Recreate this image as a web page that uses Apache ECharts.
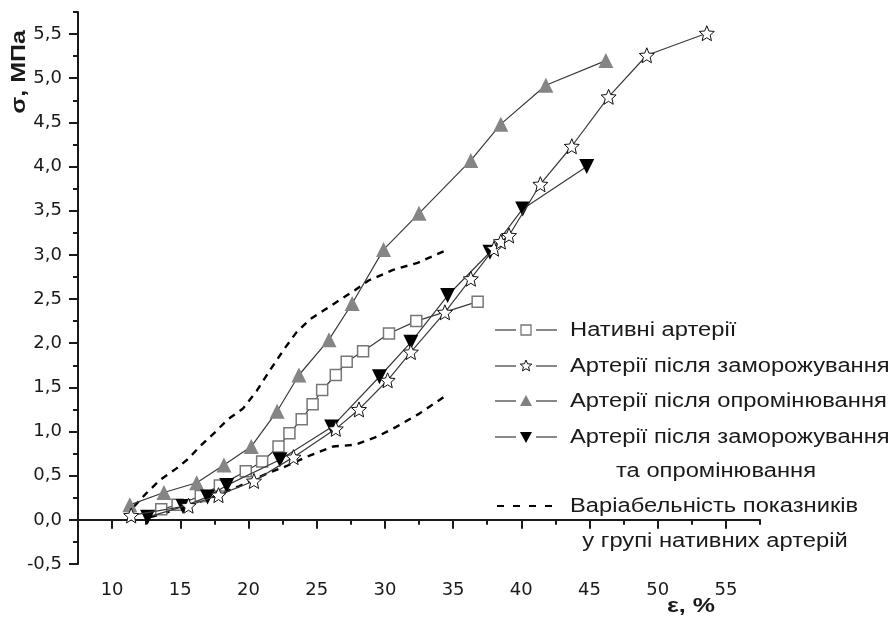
<!DOCTYPE html>
<html>
<head>
<meta charset="utf-8">
<script src="https://cdn.jsdelivr.net/npm/echarts@6/dist/echarts.min.js"></script>
<style>
  html, body { margin: 0; padding: 0; background: #fff; }
  #chart { width: 894px; height: 619px; }
</style>
</head>
<body>
<div id="chart"></div>
<script>
// ε, % / σ, МПа
var nativeX = [13.6, 14.8, 16.5, 17.9, 19.8, 21.0, 22.2, 23.0, 23.9, 24.7, 25.4, 26.4, 27.2, 28.4, 30.3, 32.3, 36.8];
var nativeY = [0.12, 0.17, 0.27, 0.39, 0.55, 0.66, 0.83, 0.98, 1.14, 1.31, 1.47, 1.64, 1.79, 1.91, 2.11, 2.25, 2.47];

var frozenX = [11.4, 15.6, 17.8, 20.4, 23.3, 26.4, 28.1, 30.2, 31.9, 34.4, 36.3, 38.0, 38.5, 39.1, 41.4, 43.7, 46.4, 49.2, 53.6];
var frozenY = [0.05, 0.16, 0.28, 0.44, 0.71, 1.03, 1.25, 1.58, 1.90, 2.35, 2.73, 3.07, 3.15, 3.22, 3.80, 4.23, 4.79, 5.26, 5.51];

var irrX = [11.3, 13.8, 16.2, 18.2, 20.2, 22.1, 23.7, 25.9, 27.6, 29.9, 32.5, 36.3, 38.5, 41.8, 46.2];
var irrY = [0.17, 0.31, 0.42, 0.62, 0.83, 1.23, 1.64, 2.04, 2.45, 3.06, 3.47, 4.07, 4.48, 4.92, 5.20];

var frozenIrrX = [12.6, 15.2, 17.0, 18.4, 22.3, 26.1, 29.6, 31.9, 34.6, 37.7, 40.1, 44.8];
var frozenIrrY = [0.03, 0.15, 0.26, 0.39, 0.68, 1.05, 1.62, 2.01, 2.54, 3.03, 3.52, 4.00];

var varUpX = [11.6, 12.5, 13.5, 14.7, 15.5, 16.5, 17.6, 18.5, 19.6, 20.6, 21.6, 22.6, 23.5, 24.5, 25.5, 26.7, 27.8, 28.8, 30.6, 32.4, 34.6];
var varUpY = [0.15, 0.30, 0.45, 0.58, 0.68, 0.84, 1.00, 1.14, 1.26, 1.46, 1.70, 1.93, 2.12, 2.27, 2.37, 2.49, 2.60, 2.71, 2.83, 2.91, 3.06];

var varLowX = [12.8, 13.7, 15.5, 17.4, 19.3, 21.3, 22.8, 24.2, 26.2, 27.8, 29.4, 30.8, 32.5, 34.6];
var varLowY = [0.03, 0.07, 0.15, 0.26, 0.38, 0.52, 0.61, 0.71, 0.83, 0.85, 0.94, 1.05, 1.20, 1.42];

var xTicks = [10, 15, 20, 25, 30, 35, 40, 45, 50, 55];
var xMinorTicks = [7.5, 12.5, 17.5, 22.5, 27.5, 32.5, 37.5, 42.5, 47.5, 52.5, 57.5];
var yTicks = [-0.5, 0, 0.5, 1, 1.5, 2, 2.5, 3, 3.5, 4, 4.5, 5, 5.5];
var yMinorTicks = [-0.25, 0.25, 0.75, 1.25, 1.75, 2.25, 2.75, 3.25, 3.75, 4.25, 4.75, 5.25, 5.75];

var legendNames = [
  "Нативні артерії",
  "Артерії після заморожування",
  "Артерії після опромінювання",
  "Артерії після заморожування",
  "та опромінювання",
  "Варіабельність показників",
  "у групі нативних артерій"
];

function zip(xs, ys) {
  return xs.map(function (x, i) { return [x, ys[i]]; });
}

function starPoints(cx, cy, R) {
  var pts = [];
  for (var i = 0; i < 10; i++) {
    var r = i % 2 ? R * 0.45 : R;
    var a = -Math.PI / 2 + i * Math.PI / 5;
    pts.push([cx + r * Math.cos(a), cy + r * Math.sin(a)]);
  }
  return pts;
}
var starSymbol = "path://M" + starPoints(0, 0, 10).map(function (p) {
  return p[0].toFixed(2) + "," + p[1].toFixed(2);
}).join("L") + "Z";

var font = "'Liberation Sans', Arial, sans-serif";
var tickFont = "'DejaVu Sans', sans-serif";
var ink = "#1a1a1a";
var lineCol = "#3a3a3a";
var wide = 1.187; // текст у оригіналі ширший

var chart = echarts.init(document.getElementById("chart"));

var axisLine = { show: true, lineStyle: { color: ink, width: 2 } };

// легенда
var lx = 495, tx = 570;
var rowY = [330, 366, 401, 437, 471, 506, 541];
var legend = [];
function legendLines(y) {
  legend.push({ type: "line", shape: { x1: lx, y1: y, x2: lx + 21, y2: y }, style: { stroke: lineCol, lineWidth: 1.2 } });
  legend.push({ type: "line", shape: { x1: lx + 41, y1: y, x2: lx + 62, y2: y }, style: { stroke: lineCol, lineWidth: 1.2 } });
}
legendLines(rowY[0]);
legend.push({ type: "rect", shape: { x: lx + 26, y: rowY[0] - 5, width: 10, height: 10 }, style: { fill: "#fff", stroke: "#777", lineWidth: 1.3 } });
legendLines(rowY[1]);
legend.push({ type: "polygon", shape: { points: starPoints(lx + 31, rowY[1], 6) }, style: { fill: "#fff", stroke: "#111", lineWidth: 1 } });
legendLines(rowY[2]);
legend.push({ type: "polygon", shape: { points: [[lx + 31, rowY[2] - 6], [lx + 37, rowY[2] + 5], [lx + 25, rowY[2] + 5]] }, style: { fill: "#808080" } });
legendLines(rowY[3]);
legend.push({ type: "polygon", shape: { points: [[lx + 25, rowY[3] - 5], [lx + 37, rowY[3] - 5], [lx + 31, rowY[3] + 6]] }, style: { fill: "#000" } });
for (var d = 0; d < 4; d++) {
  legend.push({ type: "line", shape: { x1: lx + 2 + d * 16, y1: rowY[5], x2: lx + 9 + d * 16, y2: rowY[5] }, style: { stroke: "#000", lineWidth: 2 } });
}
[0, 1, 2, 3, 5].forEach(function (r) {
  legend.push({ type: "text", x: tx, y: rowY[r], scaleX: wide, style: { x: 0, y: 0, text: legendNames[r], fill: ink, font: "20px " + font, textVerticalAlign: "middle" } });
});
legend.push({ type: "text", x: 716, y: rowY[4], scaleX: wide, style: { x: 0, y: 0, text: legendNames[4], fill: ink, font: "20px " + font, textAlign: "center", textVerticalAlign: "middle" } });
legend.push({ type: "text", x: 715, y: rowY[6], scaleX: wide, style: { x: 0, y: 0, text: legendNames[6], fill: ink, font: "20px " + font, textAlign: "center", textVerticalAlign: "middle" } });

// підписи осей
legend.push({ type: "text", x: 19, y: 72, rotation: Math.PI / 2, scaleX: 1.25, style: { x: 0, y: 0, text: "σ, МПа", fill: ink, font: "bold 20px " + font, textAlign: "center", textVerticalAlign: "middle" } });
legend.push({ type: "text", x: 667, y: 606, scaleX: 1.25, style: { x: 0, y: 0, text: "ε, %", fill: ink, font: "bold 20px " + font, textVerticalAlign: "middle" } });

var option = {
  animation: false,
  backgroundColor: "#fff",
  textStyle: { fontFamily: font },
  grid: [
    { left: 78, right: 134, top: 12, bottom: 55 },
    { left: 78, right: 134, top: 12, bottom: 55 }
  ],
  xAxis: [
    {
      type: "value", gridIndex: 0, min: 7.5, max: 57.5,
      axisLine: axisLine,
      axisTick: { show: true, length: 9, customValues: xTicks, lineStyle: { color: ink, width: 2 } },
      axisLabel: { customValues: xTicks, fontSize: 18, color: ink, margin: 17, fontFamily: tickFont },
      splitLine: { show: false }
    },
    {
      type: "value", gridIndex: 1, min: 7.5, max: 57.5,
      axisLine: { show: false },
      axisTick: { show: true, length: 5, customValues: xMinorTicks, lineStyle: { color: ink, width: 2 } },
      axisLabel: { show: false },
      splitLine: { show: false }
    }
  ],
  yAxis: [
    {
      type: "value", gridIndex: 0, min: -0.5, max: 5.75,
      axisLine: axisLine,
      axisTick: { show: true, length: 9, customValues: yTicks, lineStyle: { color: ink, width: 2 } },
      axisLabel: {
        customValues: yTicks, fontSize: 18, color: ink, margin: 16, fontFamily: tickFont,
        formatter: function (v) { return v.toFixed(1).replace(".", ","); }
      },
      splitLine: { show: false }
    },
    {
      type: "value", gridIndex: 1, min: -0.5, max: 5.75,
      axisLine: { show: false },
      axisTick: { show: true, length: 5, customValues: yMinorTicks, lineStyle: { color: ink, width: 2 } },
      axisLabel: { show: false },
      splitLine: { show: false }
    }
  ],
  graphic: legend,
  series: [
    {
      name: legendNames[5], type: "line", data: zip(varUpX, varUpY), showSymbol: false, symbol: "none",
      lineStyle: { color: "#000", width: 2.4, type: [7, 6] }, z: 2
    },
    {
      name: legendNames[6], type: "line", data: zip(varLowX, varLowY), showSymbol: false, symbol: "none",
      lineStyle: { color: "#000", width: 2.4, type: [7, 6] }, z: 2
    },
    {
      name: legendNames[0], type: "line", data: zip(nativeX, nativeY), symbol: "rect", symbolSize: 11,
      itemStyle: { color: "#fff", borderColor: "#777", borderWidth: 1.5 },
      lineStyle: { color: lineCol, width: 1.2 }, z: 3
    },
    {
      name: legendNames[2], type: "line", data: zip(irrX, irrY), symbol: "triangle", symbolSize: 15,
      itemStyle: { color: "#858585" },
      lineStyle: { color: lineCol, width: 1.2 }, z: 3
    },
    {
      name: legendNames[3] + " " + legendNames[4], type: "line", data: zip(frozenIrrX, frozenIrrY), symbol: "triangle", symbolRotate: 180, symbolSize: 15,
      itemStyle: { color: "#000" },
      lineStyle: { color: lineCol, width: 1.2 }, z: 4
    },
    {
      name: legendNames[1], type: "line", data: zip(frozenX, frozenY), symbol: starSymbol, symbolSize: 15,
      itemStyle: { color: "#fff", borderColor: "#111", borderWidth: 1 },
      lineStyle: { color: lineCol, width: 1.2 }, z: 5
    }
  ]
};
chart.setOption(option);
</script>
</body>
</html>
